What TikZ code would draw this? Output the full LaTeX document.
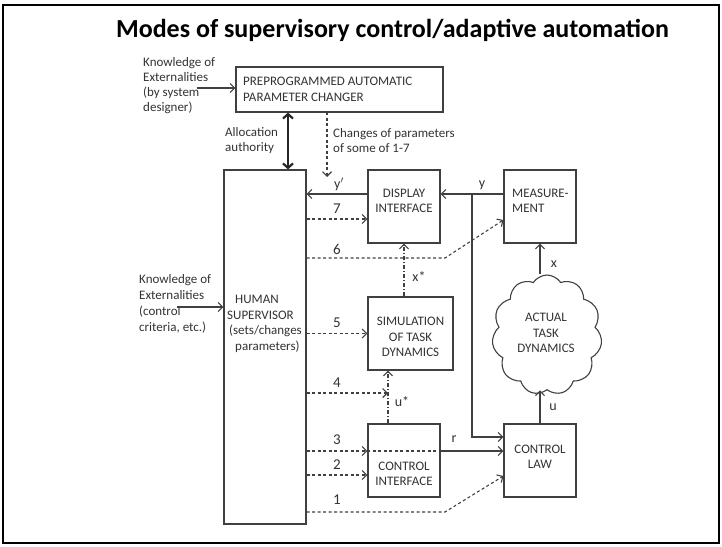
\documentclass[tikz,border=0pt]{standalone}
\usepackage{fontspec}
\setmainfont{Carlito}
\usetikzlibrary{arrows.meta,shapes.symbols}
\begin{document}
\begin{tikzpicture}[x=1pt,y=-1pt,
  box/.style={draw=black!75,line width=1.2pt,inner sep=0,fill=white},
  lbl/.style={font=\fontsize{13}{15.5}\selectfont,text=black!80,align=center,inner sep=0},
  sm/.style={font=\fontsize{13}{15}\selectfont,text=black!80,align=left,inner sep=0,anchor=west},
  num/.style={font=\fontsize{15}{16}\selectfont,text=black!80,inner sep=0},
  ln/.style={draw=black!75,line width=1.1pt,-{Straight Barb[length=4.5pt,width=9pt]}},
  dl/.style={ln,dash pattern=on 3pt off 2.5pt},
  ddl/.style={ln,dash pattern=on 4pt off 2pt on 1pt off 2pt},
]
\useasboundingbox (0,0) rectangle (722,546);
\node[draw,line width=1.5pt,minimum width=716pt,minimum height=538pt,inner sep=0] (frame) at (361,274) {};
\node[font=\fontsize{26}{30}\selectfont\bfseries,inner sep=0] (title) at (392.5,30) {Modes of supervisory control/adaptive automation};

% boxes
\node[box,minimum width=207pt,minimum height=45pt] (pc) at (339.5,89.5) {};
\node[lbl,align=left,anchor=west] (pct) at (243,89.5) {PREPROGRAMMED AUTOMATIC\\PARAMETER CHANGER};
\node[box,minimum width=82pt,minimum height=354pt] (hs) at (265,347) {};
\node[lbl,align=left,anchor=west] (hst) at (227,324) {\hspace*{8pt}HUMAN\\SUPERVISOR\\\hspace*{2pt}(sets/changes\\\hspace*{8pt}parameters)};
\node[box,minimum width=72pt,minimum height=73pt] (di) at (404,206.5) {};
\node[lbl] (dit) at (404,201) {DISPLAY\\INTERFACE};
\node[box,minimum width=72pt,minimum height=73pt] (me) at (540,206.5) {};
\node[lbl,align=left,anchor=west] (met) at (512,201) {MEASURE-\\MENT};
\node[box,minimum width=85pt,minimum height=73pt] (si) at (410.5,333.5) {};
\node[lbl] (sit) at (410.5,337) {SIMULATION\\OF TASK\\DYNAMICS};
\node[box,minimum width=72pt,minimum height=73pt] (ci) at (404,460.5) {};
\node[lbl] (cit) at (404,474) {CONTROL\\INTERFACE};
\node[box,minimum width=72pt,minimum height=73pt] (cl) at (540,460.5) {};
\node[lbl] (clt) at (540,457) {CONTROL\\LAW};
\node[cloud,draw=black!75,line width=1.1pt,cloud puffs=11,cloud puff arc=115,aspect=0.92,minimum width=110pt,minimum height=120pt,inner sep=0] (td) at (547,335) {};
\node[lbl] (tdt) at (546,333) {ACTUAL\\TASK\\DYNAMICS};

% side texts
\node[sm] (kn1) at (143,85.5) {Knowledge of\\Externalities\\(by system\\designer)};
\node[sm,font=\fontsize{13}{16}\selectfont] (kn2) at (139,304) {Knowledge of\\Externalities\\(control\\criteria, etc.)};
\node[sm] (al) at (225,140.5) {Allocation\\authority};
\node[sm] (ch) at (333,140.5) {Changes of parameters\\of some of 1-7};

% helper coordinates
\coordinate (k1) at (197,88);
\coordinate (k2) at (177,307);
\coordinate (l6) at (445,258);
\coordinate (l4) at (388,393);
\coordinate (l1) at (445,512);
\coordinate (yb) at (472,194);
\coordinate (us) at ([xshift=-16pt]ci.north);
\coordinate (cp) at (327,112);

% connectors
\draw[ln] (k1) -- (k1 -| pc.west);
\draw[ln] (k2) -- (k2 -| hs.west);
\draw[draw=black!85,line width=2.2pt,{Straight Barb[length=4.5pt,width=10pt]}-{Straight Barb[length=4.5pt,width=10pt]}] (hs.north -| 288,0) -- (pc.south -| 288,0);
\draw[dl] (cp) -- (cp |- 0,177);
\draw[ln] ([yshift=12.5pt]di.west) -- ([yshift=12.5pt]di.west -| hs.east);
\draw[dl] ([yshift=-12.5pt]di.west -| hs.east) -- ([yshift=-12.5pt]di.west);
\draw[dl] (l6 -| hs.east) -- (l6) -- ([yshift=-13.5pt]me.west);
\draw[ddl] (di.south |- si.north) -- (di.south);
\draw[ln] ([yshift=12.5pt]me.west) -- ([yshift=12.5pt]di.east);
\draw[ln] (yb) -- (yb |- 0,437) -- ([yshift=23.5pt]cl.west);
\draw[dl] (si.west -| hs.east) -- (si.west);
\draw[dl] (l4 -| hs.east) -- (l4);
\draw[ddl] (us) -- (us |- si.south);
\draw[dl] ([yshift=9.5pt]ci.west -| hs.east) -- ([yshift=9.5pt]ci.west);
\draw[draw=black!75,line width=1.1pt,dash pattern=on 3pt off 2.5pt] ([yshift=9.5pt]ci.west) -- ([yshift=9.5pt]ci.east);
\draw[ln] ([yshift=9.5pt]ci.east) -- ([yshift=9.5pt]cl.west);
\draw[dl] ([yshift=-14.5pt]ci.west -| hs.east) -- ([yshift=-14.5pt]ci.west);
\draw[dl] (l1 -| hs.east) -- (l1) -- ([yshift=-15.5pt]cl.west);
\draw[ln] (me.south |- td.north) -- (me.south);
\draw[ln] (cl.north) -- (cl.north |- td.south);

% labels
\node[num] (n7) at (337,209) {7};
\node[num] (n6) at (337,249) {6};
\node[num] (n5) at (337,323) {5};
\node[num] (n4) at (337,383) {4};
\node[num] (n3) at (337,440) {3};
\node[num] (n2) at (337,465) {2};
\node[num] (n1) at (337,500) {1};
\node[num,font=\fontsize{14}{15}\selectfont] (lyp) at (339,184) {y$'$};
\node[num,font=\fontsize{14}{15}\selectfont] (ly) at (482,185) {y};
\node[lbl,font=\fontsize{14}{15}\selectfont] (lxs) at (419,277) {x*};
\node[lbl,font=\fontsize{14}{15}\selectfont] (lus) at (402,402) {u*};
\node[lbl,font=\fontsize{14}{15}\selectfont] (lr) at (454,439) {r};
\node[lbl,font=\fontsize{14}{15}\selectfont] (lx) at (554,264) {x};
\node[lbl,font=\fontsize{14}{15}\selectfont] (lu) at (553,407) {u};
\end{tikzpicture}
\end{document}
